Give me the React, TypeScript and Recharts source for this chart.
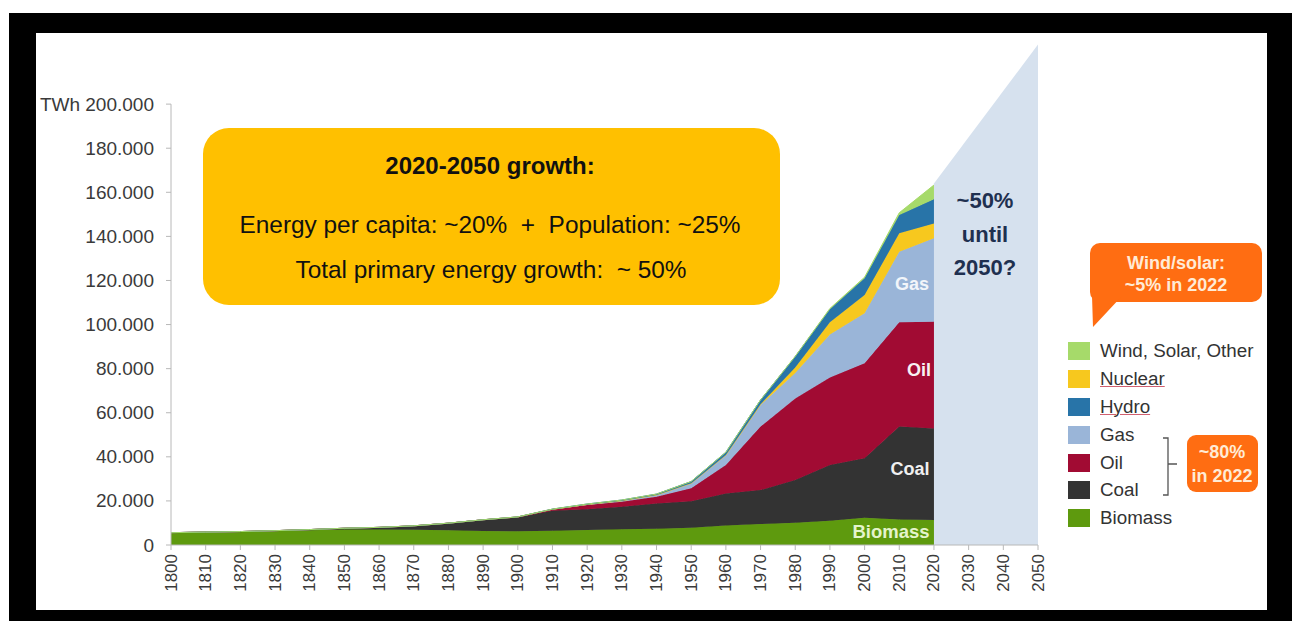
import React from "react";
import { AreaChart, Area, XAxis, YAxis, ReferenceLine } from "recharts";

const years = [1800, 1810, 1820, 1830, 1840, 1850, 1860, 1870, 1880, 1890, 1900, 1910, 1920, 1930, 1940, 1950, 1960, 1970, 1980, 1990, 2000, 2010, 2020];
const biomass = [5600, 5800, 6000, 6300, 6700, 7000, 7000, 6900, 6700, 6400, 6200, 6500, 6800, 7100, 7400, 7800, 8800, 9500, 10100, 11000, 12400, 11600, 11300];
const coal = [0, 50, 100, 200, 300, 600, 1000, 1800, 3200, 5000, 6300, 9000, 9400, 10300, 11400, 12000, 14600, 15400, 19400, 25300, 26900, 42100, 41600];
const oil = [0, 0, 0, 0, 0, 0, 0, 0, 0, 50, 200, 600, 1900, 2200, 3100, 5900, 12900, 28800, 37000, 39700, 43100, 47300, 48400];
const gas = [0, 0, 0, 0, 0, 0, 0, 0, 0, 0, 50, 100, 300, 500, 800, 2300, 4500, 9800, 11500, 19500, 22700, 32000, 37800];
const nuclear = [0, 0, 0, 0, 0, 0, 0, 0, 0, 0, 0, 0, 0, 0, 0, 0, 0, 300, 2500, 5500, 8300, 8400, 6800];
const hydro = [0, 0, 0, 0, 0, 0, 0, 0, 0, 0, 0, 100, 200, 300, 400, 800, 1300, 2000, 5000, 6000, 7600, 8300, 10900];
const windSolar = [0, 0, 0, 0, 0, 0, 0, 0, 0, 0, 0, 0, 0, 0, 0, 0, 0, 0, 100, 300, 500, 1000, 6500];

const projectionYears = [2020, 2050];
const projectionValues = [164000, 227000];

const yearTicks = [1800, 1810, 1820, 1830, 1840, 1850, 1860, 1870, 1880, 1890, 1900, 1910, 1920, 1930, 1940, 1950, 1960, 1970, 1980, 1990, 2000, 2010, 2020, 2030, 2040, 2050];
const valueTicks = [0, 20000, 40000, 60000, 80000, 100000, 120000, 140000, 160000, 180000, 200000];

const data = years.map((year, i) => ({
  year,
  biomass: biomass[i],
  coal: coal[i],
  oil: oil[i],
  gas: gas[i],
  nuclear: nuclear[i],
  hydro: hydro[i],
  windSolar: windSolar[i]
}));

const projectionData = projectionYears.map((year, i) => ({ year, value: projectionValues[i] }));

const FONT = "'Liberation Sans', Arial, Helvetica, sans-serif";

const series = [
  { key: "biomass", color: "#5E9A0E", name: "Biomass" },
  { key: "coal", color: "#333333", name: "Coal" },
  { key: "oil", color: "#A10B33", name: "Oil" },
  { key: "gas", color: "#9AB5D8", name: "Gas" },
  { key: "nuclear", color: "#F7C81E", name: "Nuclear" },
  { key: "hydro", color: "#2874A8", name: "Hydro" },
  { key: "windSolar", color: "#A6DA6A", name: "Wind, Solar, Other" }
];

const fmtValue = (v: number) => {
  if (v === 0) return "0";
  const s = `${v / 1000}.000`;
  return v === 200000 ? `TWh ${s}` : s;
};

const YTick = (props: any) => {
  const { x, y, payload } = props;
  return (
    <text x={x} y={y} textAnchor="end" dominantBaseline="central" fill="#3a3a3a" fontSize={19} fontFamily={FONT}>
      {fmtValue(payload.value)}
    </text>
  );
};

const XTick = (props: any) => {
  const { x, y, payload } = props;
  const ty = y + 2;
  return (
    <text
      x={x}
      y={ty}
      transform={`rotate(-90 ${x} ${ty})`}
      textAnchor="end"
      dominantBaseline="central"
      fill="#3a3a3a"
      fontSize={17}
      fontFamily={FONT}
    >
      {payload.value}
    </text>
  );
};

const abs = (style: React.CSSProperties): React.CSSProperties => ({ position: "absolute", fontFamily: FONT, ...style });

const centered = (cx: number, cy: number, style: React.CSSProperties = {}): React.CSSProperties =>
  abs({ left: cx, top: cy, transform: "translate(-50%, -50%)", whiteSpace: "nowrap", ...style });

const legendItems = [
  { name: "Wind, Solar, Other", color: "#A6DA6A", y: 351, underline: false },
  { name: "Nuclear", color: "#F7C81E", y: 379, underline: true },
  { name: "Hydro", color: "#2874A8", y: 406.5, underline: true },
  { name: "Gas", color: "#9AB5D8", y: 434.5, underline: false },
  { name: "Oil", color: "#A10B33", y: 462.5, underline: false },
  { name: "Coal", color: "#333333", y: 490, underline: false },
  { name: "Biomass", color: "#5E9A0E", y: 517.5, underline: false }
];

export default function App() {
  return (
    <div style={{ position: "absolute", left: 0, top: 0, width: 1292, height: 621, background: "#fff", overflow: "hidden" }}>
      <div style={abs({ left: 9, top: 13, width: 1283, height: 608, background: "#000" })} />
      <div style={abs({ left: 36, top: 33, width: 1231, height: 577, background: "#fff" })} />

      <div style={abs({ left: 0, top: 0 })}>
        <AreaChart width={1292} height={621} data={data} margin={{ top: 44.6, right: 254, bottom: 16, left: 111 }}>
          <XAxis
            dataKey="year"
            type="number"
            domain={[1800, 2050]}
            ticks={yearTicks}
            interval={0}
            tick={<XTick />}
            tickSize={5}
            stroke="#b8b8b8"
            height={60}
          />
          <YAxis
            type="number"
            domain={[0, 227000]}
            ticks={valueTicks}
            interval={0}
            tick={<YTick />}
            tickSize={5}
            tickMargin={12}
            axisLine={false}
            tickLine={{ stroke: "#b8b8b8" }}
            width={60}
          />
          <Area
            data={projectionData}
            dataKey="value"
            type="linear"
            fill="#D6E1EE"
            fillOpacity={1}
            stroke="none"
            dot={false}
            activeDot={false}
            isAnimationActive={false}
          />
          {series.map((s) => (
            <Area
              key={s.key}
              dataKey={s.key}
              stackId="energy"
              type="linear"
              fill={s.color}
              fillOpacity={1}
              stroke={s.color}
              strokeWidth={1}
              dot={false}
              activeDot={false}
              isAnimationActive={false}
            />
          ))}
          <ReferenceLine segment={[{ x: 1800, y: 0 }, { x: 1800, y: 200000 }]} stroke="#b8b8b8" />
        </AreaChart>
      </div>

      {/* growth box */}
      <div style={abs({ left: 203, top: 128, width: 577, height: 177, background: "#FFC000", borderRadius: 26 })} />
      <div style={centered(490, 166, { fontSize: 24, fontWeight: "bold", color: "#111" })}>2020-2050 growth:</div>
      <div style={centered(490, 225, { fontSize: 24.4, color: "#111", whiteSpace: "pre" })}>Energy per capita: ~20%  +  Population: ~25%</div>
      <div style={centered(491, 270, { fontSize: 24.4, color: "#111", whiteSpace: "pre" })}>Total primary energy growth:  ~ 50%</div>

      {/* projection text */}
      <div style={centered(985, 201, { fontSize: 22, fontWeight: "bold", color: "#1F3050" })}>~50%</div>
      <div style={centered(985, 235, { fontSize: 22, fontWeight: "bold", color: "#1F3050" })}>until</div>
      <div style={centered(985, 268, { fontSize: 22, fontWeight: "bold", color: "#1F3050" })}>2050?</div>

      {/* area labels */}
      <div style={centered(912, 284, { fontSize: 18, fontWeight: "bold", color: "#F2F5FA" })}>Gas</div>
      <div style={centered(919, 370, { fontSize: 18, fontWeight: "bold", color: "#F8F0F2" })}>Oil</div>
      <div style={centered(910, 469, { fontSize: 18, fontWeight: "bold", color: "#F0F0F0" })}>Coal</div>
      <div style={centered(891, 532, { fontSize: 18.5, fontWeight: "bold", color: "#E4F4CC" })}>Biomass</div>

      {/* wind/solar callout, share box and bracket */}
      <svg style={abs({ left: 0, top: 0 })} width={1292} height={621}>
        <rect x={1090} y={243} width={172} height={59} rx={10} fill="#FF6D12" />
        <polygon points="1092,296 1122,296 1093,327" fill="#FF6D12" />
        <rect x={1187} y={435} width={71} height={57} rx={9} fill="#FF6D12" />
        <path d="M1163,438 L1168,438 L1168,495 L1163,495 M1168,464 L1177,464" stroke="#555" strokeWidth={1.3} fill="none" />
      </svg>
      <div style={centered(1176, 263, { fontSize: 18, fontWeight: "bold", color: "#FFEBD6" })}>Wind/solar:</div>
      <div style={centered(1176, 285, { fontSize: 18, fontWeight: "bold", color: "#FFEBD6" })}>~5% in 2022</div>
      <div style={centered(1222, 452, { fontSize: 18, fontWeight: "bold", color: "#FFEBD6" })}>~80%</div>
      <div style={centered(1222, 476, { fontSize: 18, fontWeight: "bold", color: "#FFEBD6" })}>in 2022</div>

      {/* legend */}
      {legendItems.map((item) => (
        <React.Fragment key={item.name}>
          <div style={abs({ left: 1068, top: item.y - 9, width: 22, height: 18, background: item.color })} />
          <div
            style={abs({
              left: 1100,
              top: item.y,
              transform: "translateY(-50%)",
              fontSize: 18.8,
              color: "#333",
              whiteSpace: "nowrap",
              textDecoration: item.underline ? "underline" : "none",
              textDecorationColor: "#d06070",
              textDecorationThickness: 1
            })}
          >
            {item.name}
          </div>
        </React.Fragment>
      ))}
    </div>
  );
}
